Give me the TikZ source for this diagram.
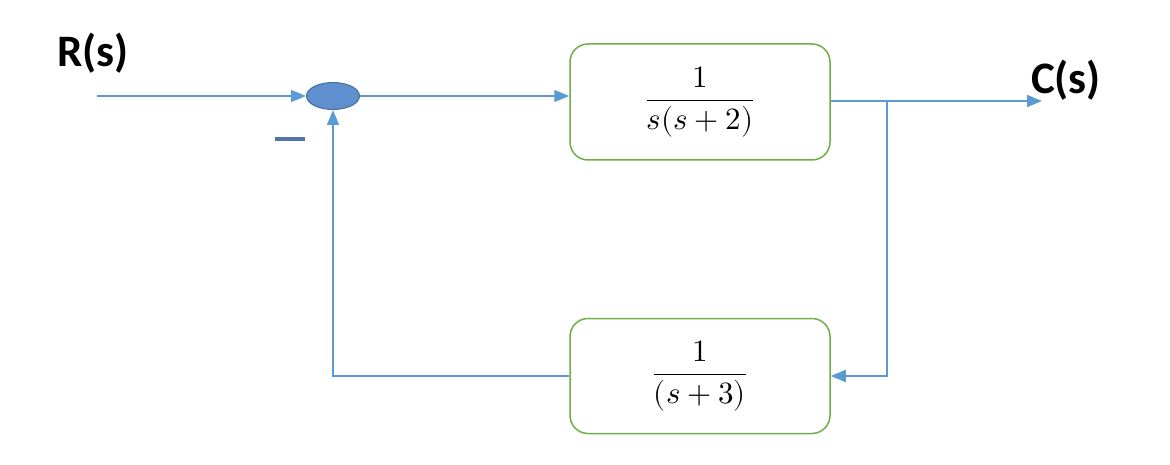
\documentclass[tikz,border=0pt]{standalone}
\usepackage{amsmath}
\usepackage{fontspec}
\usepackage{unicode-math}
\setsansfont{Carlito}
\usepackage{tikz}
\usetikzlibrary{arrows.meta,positioning,shapes.geometric}
\definecolor{sigblue}{RGB}{91,155,213}
\definecolor{sumfill}{RGB}{96,143,207}
\definecolor{sumedge}{RGB}{65,113,156}
\definecolor{blkgreen}{RGB}{112,173,71}
\definecolor{minusblue}{RGB}{80,118,170}

\begin{document}
\begin{tikzpicture}[x=1pt, y=-1pt,
  blk/.style={draw=blkgreen, line width=1.5pt, rounded corners=18pt, minimum width=260pt, minimum height=116pt, align=center, font=\fontsize{31}{36}\selectfont},
  sumnode/.style={ellipse, draw=sumedge, line width=1pt, fill=sumfill, minimum width=53pt, minimum height=27pt, inner sep=0pt},
  sig/.style={draw=sigblue, line width=1.6pt, -{Triangle[length=15pt, width=12pt]}},
  lbl/.style={font=\fontsize{45}{48}\selectfont\sffamily\bfseries, inner sep=0pt},
  minusbar/.style={fill=minusblue, minimum width=30pt, minimum height=4pt, inner sep=0pt}
]
  \useasboundingbox (0,0) rectangle (1170,465);

  \node[sumnode] (sum) at (333,96) {};
  \node[blk] (G) at (700,102) {$\dfrac{1}{s(s+2)}$};
  \node[blk, minimum height=115pt] (H) at (700,376) {$\dfrac{1}{(s+3)}$};
  \node[minusbar] (minus) at (290,139) {};

  \node[lbl] (R) at (93,53) {R(s)};
  \node[lbl] (C) at (1066,80) {C(s)};

  \coordinate (in) at (97,96);
  \coordinate (split) at (887,101);
  \coordinate (out) at (1042,101);

  \draw[sig] (in) -- (sum.west);
  \draw[sig] (sum.east) -- (sum -| G.west);
  \draw[sig] (G.east |- split) -- (out);
  \draw[sig] (split) |- (H.east);
  \draw[sig] (H.west) -| (sum.south);
\end{tikzpicture}
\end{document}
